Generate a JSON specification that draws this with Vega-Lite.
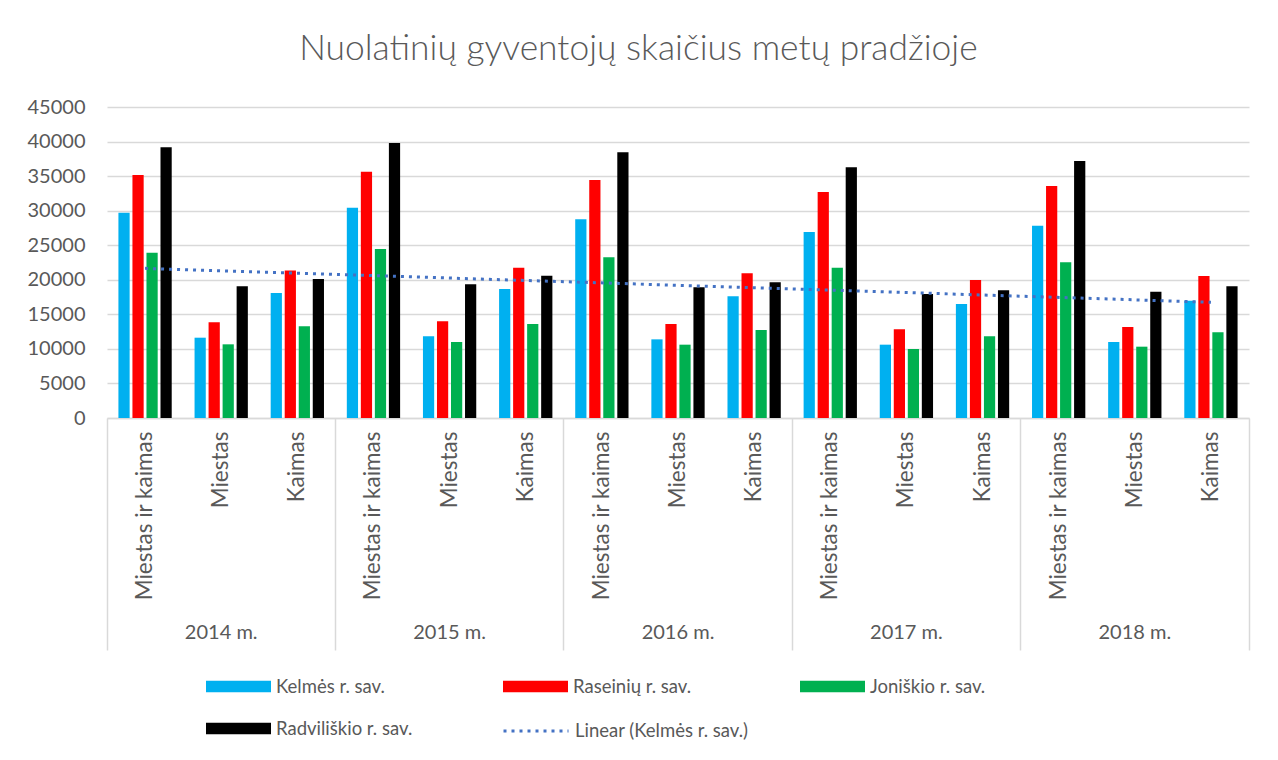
{
  "$schema": "https://vega.github.io/schema/vega-lite/v6.json",
  "width": 1142,
  "height": 311,
  "autosize": {"type": "none"},
  "padding": {"left": 107, "top": 107, "right": 29, "bottom": 342},
  "background": "white",
  "config": {
    "font": "Lato",
    "view": {"stroke": null},
    "axis": {"labelColor": "#595959", "labelFont": "Lato", "labelFontSize": 20, "titleColor": "#595959"},
    "legend": {"labelColor": "#595959", "labelFont": "Lato", "labelFontSize": 18.5}
  },
  "title": {
    "text": "Nuolatinių gyventojų skaičius metų pradžioje",
    "font": "Lato",
    "fontSize": 35.4,
    "fontWeight": 300,
    "color": "#595959",
    "anchor": "middle",
    "frame": "bounds",
    "baseline": "alphabetic",
    "offset": 2
  },
  "datasets": {
    "bars": [
      {"cat": "2014 m.|Miestas ir kaimas", "year": "2014 m.", "series": "Kelmės r. sav.", "value": 29700},
      {"cat": "2014 m.|Miestas ir kaimas", "year": "2014 m.", "series": "Raseinių r. sav.", "value": 35150},
      {"cat": "2014 m.|Miestas ir kaimas", "year": "2014 m.", "series": "Joniškio r. sav.", "value": 23900},
      {"cat": "2014 m.|Miestas ir kaimas", "year": "2014 m.", "series": "Radviliškio r. sav.", "value": 39170},
      {"cat": "2014 m.|Miestas", "year": "2014 m.", "series": "Kelmės r. sav.", "value": 11620},
      {"cat": "2014 m.|Miestas", "year": "2014 m.", "series": "Raseinių r. sav.", "value": 13840},
      {"cat": "2014 m.|Miestas", "year": "2014 m.", "series": "Joniškio r. sav.", "value": 10660},
      {"cat": "2014 m.|Miestas", "year": "2014 m.", "series": "Radviliškio r. sav.", "value": 19050},
      {"cat": "2014 m.|Kaimas", "year": "2014 m.", "series": "Kelmės r. sav.", "value": 18090},
      {"cat": "2014 m.|Kaimas", "year": "2014 m.", "series": "Raseinių r. sav.", "value": 21360},
      {"cat": "2014 m.|Kaimas", "year": "2014 m.", "series": "Joniškio r. sav.", "value": 13260},
      {"cat": "2014 m.|Kaimas", "year": "2014 m.", "series": "Radviliškio r. sav.", "value": 20110},
      {"cat": "2015 m.|Miestas ir kaimas", "year": "2015 m.", "series": "Kelmės r. sav.", "value": 30430},
      {"cat": "2015 m.|Miestas ir kaimas", "year": "2015 m.", "series": "Raseinių r. sav.", "value": 35640},
      {"cat": "2015 m.|Miestas ir kaimas", "year": "2015 m.", "series": "Joniškio r. sav.", "value": 24450},
      {"cat": "2015 m.|Miestas ir kaimas", "year": "2015 m.", "series": "Radviliškio r. sav.", "value": 39790},
      {"cat": "2015 m.|Miestas", "year": "2015 m.", "series": "Kelmės r. sav.", "value": 11820},
      {"cat": "2015 m.|Miestas", "year": "2015 m.", "series": "Raseinių r. sav.", "value": 13990},
      {"cat": "2015 m.|Miestas", "year": "2015 m.", "series": "Joniškio r. sav.", "value": 11000},
      {"cat": "2015 m.|Miestas", "year": "2015 m.", "series": "Radviliškio r. sav.", "value": 19340},
      {"cat": "2015 m.|Kaimas", "year": "2015 m.", "series": "Kelmės r. sav.", "value": 18670},
      {"cat": "2015 m.|Kaimas", "year": "2015 m.", "series": "Raseinių r. sav.", "value": 21750},
      {"cat": "2015 m.|Kaimas", "year": "2015 m.", "series": "Joniškio r. sav.", "value": 13600},
      {"cat": "2015 m.|Kaimas", "year": "2015 m.", "series": "Radviliškio r. sav.", "value": 20600},
      {"cat": "2016 m.|Miestas ir kaimas", "year": "2016 m.", "series": "Kelmės r. sav.", "value": 28750},
      {"cat": "2016 m.|Miestas ir kaimas", "year": "2016 m.", "series": "Raseinių r. sav.", "value": 34440},
      {"cat": "2016 m.|Miestas ir kaimas", "year": "2016 m.", "series": "Joniškio r. sav.", "value": 23250},
      {"cat": "2016 m.|Miestas ir kaimas", "year": "2016 m.", "series": "Radviliškio r. sav.", "value": 38440},
      {"cat": "2016 m.|Miestas", "year": "2016 m.", "series": "Kelmės r. sav.", "value": 11380},
      {"cat": "2016 m.|Miestas", "year": "2016 m.", "series": "Raseinių r. sav.", "value": 13600},
      {"cat": "2016 m.|Miestas", "year": "2016 m.", "series": "Joniškio r. sav.", "value": 10610},
      {"cat": "2016 m.|Miestas", "year": "2016 m.", "series": "Radviliškio r. sav.", "value": 18910},
      {"cat": "2016 m.|Kaimas", "year": "2016 m.", "series": "Kelmės r. sav.", "value": 17600},
      {"cat": "2016 m.|Kaimas", "year": "2016 m.", "series": "Raseinių r. sav.", "value": 20930},
      {"cat": "2016 m.|Kaimas", "year": "2016 m.", "series": "Joniškio r. sav.", "value": 12730},
      {"cat": "2016 m.|Kaimas", "year": "2016 m.", "series": "Radviliškio r. sav.", "value": 19630},
      {"cat": "2017 m.|Miestas ir kaimas", "year": "2017 m.", "series": "Kelmės r. sav.", "value": 26910},
      {"cat": "2017 m.|Miestas ir kaimas", "year": "2017 m.", "series": "Raseinių r. sav.", "value": 32700},
      {"cat": "2017 m.|Miestas ir kaimas", "year": "2017 m.", "series": "Joniškio r. sav.", "value": 21750},
      {"cat": "2017 m.|Miestas ir kaimas", "year": "2017 m.", "series": "Radviliškio r. sav.", "value": 36270},
      {"cat": "2017 m.|Miestas", "year": "2017 m.", "series": "Kelmės r. sav.", "value": 10610},
      {"cat": "2017 m.|Miestas", "year": "2017 m.", "series": "Raseinių r. sav.", "value": 12830},
      {"cat": "2017 m.|Miestas", "year": "2017 m.", "series": "Joniškio r. sav.", "value": 9980},
      {"cat": "2017 m.|Miestas", "year": "2017 m.", "series": "Radviliškio r. sav.", "value": 17940},
      {"cat": "2017 m.|Kaimas", "year": "2017 m.", "series": "Kelmės r. sav.", "value": 16500},
      {"cat": "2017 m.|Kaimas", "year": "2017 m.", "series": "Raseinių r. sav.", "value": 19970},
      {"cat": "2017 m.|Kaimas", "year": "2017 m.", "series": "Joniškio r. sav.", "value": 11820},
      {"cat": "2017 m.|Kaimas", "year": "2017 m.", "series": "Radviliškio r. sav.", "value": 18480},
      {"cat": "2018 m.|Miestas ir kaimas", "year": "2018 m.", "series": "Kelmės r. sav.", "value": 27830},
      {"cat": "2018 m.|Miestas ir kaimas", "year": "2018 m.", "series": "Raseinių r. sav.", "value": 33570},
      {"cat": "2018 m.|Miestas ir kaimas", "year": "2018 m.", "series": "Joniškio r. sav.", "value": 22530},
      {"cat": "2018 m.|Miestas ir kaimas", "year": "2018 m.", "series": "Radviliškio r. sav.", "value": 37190},
      {"cat": "2018 m.|Miestas", "year": "2018 m.", "series": "Kelmės r. sav.", "value": 11000},
      {"cat": "2018 m.|Miestas", "year": "2018 m.", "series": "Raseinių r. sav.", "value": 13170},
      {"cat": "2018 m.|Miestas", "year": "2018 m.", "series": "Joniškio r. sav.", "value": 10320},
      {"cat": "2018 m.|Miestas", "year": "2018 m.", "series": "Radviliškio r. sav.", "value": 18280},
      {"cat": "2018 m.|Kaimas", "year": "2018 m.", "series": "Kelmės r. sav.", "value": 16980},
      {"cat": "2018 m.|Kaimas", "year": "2018 m.", "series": "Raseinių r. sav.", "value": 20550},
      {"cat": "2018 m.|Kaimas", "year": "2018 m.", "series": "Joniškio r. sav.", "value": 12400},
      {"cat": "2018 m.|Kaimas", "year": "2018 m.", "series": "Radviliškio r. sav.", "value": 19050}
    ],
    "trend": [
      {"cat": "2014 m.|Miestas ir kaimas", "series": "Linear (Kelmės r. sav.)", "value": 21650},
      {"cat": "2018 m.|Kaimas", "series": "Linear (Kelmės r. sav.)", "value": 16750}
    ]
  },
  "layer": [
    {
      "layer": [
        {
          "data": {"name": "bars"},
          "mark": {"type": "bar"},
          "encoding": {
            "x": {
              "field": "cat",
              "type": "nominal",
              "title": null,
              "scale": {
                "domain": ["2014 m.|Miestas ir kaimas", "2014 m.|Miestas", "2014 m.|Kaimas",
                           "2015 m.|Miestas ir kaimas", "2015 m.|Miestas", "2015 m.|Kaimas",
                           "2016 m.|Miestas ir kaimas", "2016 m.|Miestas", "2016 m.|Kaimas",
                           "2017 m.|Miestas ir kaimas", "2017 m.|Miestas", "2017 m.|Kaimas",
                           "2018 m.|Miestas ir kaimas", "2018 m.|Miestas", "2018 m.|Kaimas"],
                "paddingInner": 0.3,
                "paddingOuter": 0.15
              },
              "axis": {
                "labelExpr": "split(datum.label, '|')[1]",
                "labelAngle": -90,
                "labelAlign": "right",
                "labelBaseline": "middle",
                "labelPadding": 13,
                "labelOverlap": false,
                "ticks": false,
                "domain": true,
                "domainColor": "#D9D9D9",
                "domainWidth": 1.5,
                "grid": false,
                "labelFontSize": 22.5
              }
            },
            "xOffset": {
              "field": "series",
              "type": "nominal",
              "scale": {
                "domain": ["Kelmės r. sav.", "Raseinių r. sav.", "Joniškio r. sav.", "Radviliškio r. sav."],
                "paddingInner": 0.2,
                "paddingOuter": 0
              }
            },
            "y": {
              "field": "value",
              "type": "quantitative",
              "title": null,
              "scale": {"domain": [0, 45000], "nice": false},
              "axis": {
                "values": [0, 5000, 10000, 15000, 20000, 25000, 30000, 35000, 40000, 45000],
                "tickCount": 10,
                "format": "d",
                "labelOverlap": false,
                "domain": false,
                "ticks": false,
                "grid": true,
                "gridColor": "#D9D9D9",
                "gridWidth": 1.5,
                "labelPadding": 22,
                "labelFontSize": 20
              }
            },
            "color": {
              "field": "series",
              "type": "nominal",
              "scale": {
                "domain": ["Kelmės r. sav.", "Raseinių r. sav.", "Joniškio r. sav.", "Radviliškio r. sav."],
                "range": ["#00B0F0", "#FF0000", "#00B050", "#000000"]
              },
              "legend": {
                "title": null,
                "orient": "none",
                "legendX": 99,
                "legendY": 547,
                "direction": "horizontal",
                "columns": 3,
                "gridAlign": "all",
                "columnPadding": 90,
                "rowPadding": -17,
                "padding": 0,
                "symbolType": "M-1,-0.18H1V0.18H-1Z",
                "symbolSize": 4225,
                "symbolStrokeWidth": 0,
                "symbolOpacity": 1,
                "labelOffset": 5,
                "labelLimit": 300,
                "labelFontSize": 18.5
              }
            }
          }
        },
        {
          "data": {"name": "trend"},
          "mark": {"type": "line", "stroke": "#4472C4", "strokeWidth": 3},
          "encoding": {
            "x": {"field": "cat", "type": "nominal"},
            "y": {
              "field": "value",
              "type": "quantitative",
              "title": null,
              "axis": {
                "values": [0, 5000, 10000, 15000, 20000, 25000, 30000, 35000, 40000, 45000],
                "tickCount": 10,
                "format": "d",
                "labelOverlap": false,
                "domain": false,
                "ticks": false,
                "grid": true,
                "gridColor": "#D9D9D9",
                "gridWidth": 1.5,
                "labelPadding": 22,
                "labelFontSize": 20
              }
            },
            "strokeDash": {
              "field": "series",
              "type": "nominal",
              "scale": {"domain": ["Linear (Kelmės r. sav.)"], "range": [[3, 5]]},
              "legend": {
                "title": null,
                "orient": "none",
                "legendX": 395,
                "legendY": 590,
                "padding": 0,
                "symbolType": "stroke",
                "symbolSize": 4225,
                "symbolStrokeColor": "#4472C4",
                "symbolStrokeWidth": 3,
                "labelOffset": 5,
                "labelLimit": 300,
                "labelFontSize": 18.5
              }
            }
          }
        }
      ]
    },
    {
      "data": {"name": "bars"},
      "mark": {"type": "rule", "opacity": 0},
      "encoding": {
        "x": {
          "field": "year",
          "type": "nominal",
          "title": null,
          "scale": {"type": "band", "paddingInner": 0, "paddingOuter": 0},
          "axis": {
            "orient": "bottom",
            "domain": false,
            "grid": false,
            "ticks": true,
            "tickColor": "#D9D9D9",
            "tickWidth": 1.5,
            "tickSize": 232,
            "bandPosition": 1,
            "tickExtra": true,
            "labelAngle": 0,
            "labelAlign": "center",
            "labelBaseline": "top",
            "labelPadding": -28,
            "labelFontSize": 20
          }
        }
      }
    }
  ],
  "resolve": {"scale": {"x": "independent"}, "axis": {"x": "independent"}}
}
